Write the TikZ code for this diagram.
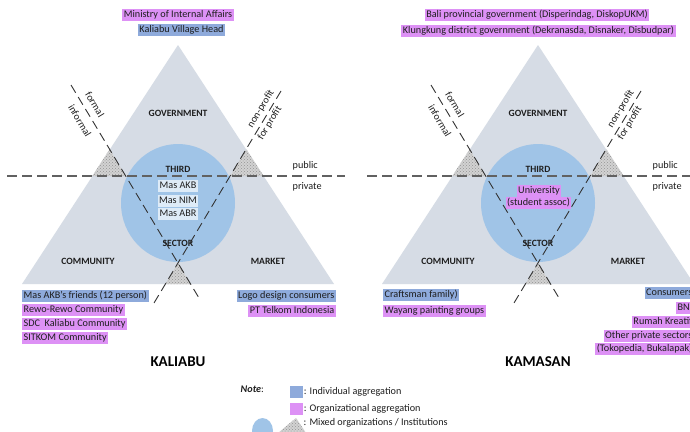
\documentclass[tikz,border=0pt]{standalone}
\usepackage{fontspec}
\setmainfont{Carlito}
\usetikzlibrary{patterns}
\definecolor{pinkhl}{RGB}{221,145,245}
\definecolor{bluehl}{RGB}{142,170,219}
\definecolor{trifill}{RGB}{214,220,229}
\definecolor{circfill}{RGB}{160,196,231}
\definecolor{masbox}{RGB}{222,235,247}
\definecolor{txt}{RGB}{30,30,30}
\tikzset{
 lbl/.style={font=\fontsize{10.2}{12}\selectfont, inner xsep=1.5pt, inner ysep=1pt, text height=7.6pt, text depth=2.4pt, text=txt},
 orgbox/.style={lbl, fill=pinkhl},
 indbox/.style={lbl, fill=bluehl},
 masnode/.style={lbl, fill=masbox},
 plainlbl/.style={lbl},
 sectorlbl/.style={font=\fontsize{9.6}{11}\selectfont\bfseries, text=txt, inner sep=0pt},
 paneltitle/.style={font=\fontsize{15}{17}\selectfont\bfseries, text=black},
 hline/.style={draw=black!62, line width=1.3pt, dash pattern=on 10pt off 5pt},
 dline/.style={draw=black!80, line width=0.9pt, dash pattern=on 9pt off 5pt},
 hatchfill/.style={fill=gray!35, postaction={pattern=crosshatch dots, pattern color=gray!85}},
}
\newcommand{\drawpanel}[1]{%
 \coordinate (#1A) at (178,45);
 \coordinate (#1L) at (22,284);
 \coordinate (#1R) at (334,284);
 \fill[trifill] (#1A) -- (#1L) -- (#1R) -- cycle;
 \fill[circfill] (178,203) ellipse [x radius=57, y radius=59];
 \path[hatchfill] (92.3,176) -- (125.8,176) -- (109.7,149.2) -- cycle;
 \path[hatchfill] (263.7,176) -- (230.2,176) -- (246.3,149.2) -- cycle;
 \path[hatchfill] (178,263) -- (165.4,284) -- (190.6,284) -- cycle;
 \coordinate (#1h1) at (7,176);
 \coordinate (#1h2) at (345,176);
 \coordinate (#1d1a) at (71,85);
 \coordinate (#1d1b) at (199,298);
 \coordinate (#1d2a) at (281,91);
 \coordinate (#1d2b) at (154,303);
 \draw[hline] (#1h1) -- (#1h2);
 \draw[dline] (#1d1a) -- (#1d1b);
 \draw[dline] (#1d2a) -- (#1d2b);
 \node[plainlbl, rotate=-59] (#1formal) at (94,105) {formal};
 \node[plainlbl, rotate=-59] (#1informal) at (79,121) {informal};
 \node[plainlbl, rotate=59] (#1nonprofit) at (261,109) {non-profit};
 \node[plainlbl, rotate=59] (#1forprofit) at (270,123) {for profit};
 \node[plainlbl, anchor=west] (#1public) at (291,166) {public};
 \node[plainlbl, anchor=west] (#1private) at (291,187) {private};
 \node[sectorlbl] (#1gov) at (178,113) {GOVERNMENT};
 \node[sectorlbl] (#1third) at (178,169) {THIRD};
 \node[sectorlbl] (#1sector) at (178,243) {SECTOR};
 \node[sectorlbl] (#1comm) at (88,261) {COMMUNITY};
 \node[sectorlbl] (#1market) at (268,261) {MARKET};
}
\begin{document}
\begin{tikzpicture}[x=1pt,y=-1pt]
\useasboundingbox (0,0) rectangle (690,431);
\fill[white] (0,0) rectangle (690,431);
% ---------- KALIABU ----------
\begin{scope}
\drawpanel{k}
\end{scope}
\node[orgbox] (minint) at (178,14.5) {Ministry of Internal Affairs};
\node[indbox] (kvh) at (181.5,29.5) {Kaliabu Village Head};
\node[masnode] (akb) at (178,185.5) {Mas AKB};
\node[masnode] (nim) at (178,201) {Mas NIM};
\node[masnode] (abr) at (178,214) {Mas ABR};
\node[indbox, anchor=west] (friends) at (22,296) {Mas AKB's friends (12 person)};
\node[orgbox, anchor=west] (rewo) at (22,310) {Rewo-Rewo Community};
\node[orgbox, anchor=west] (sdc) at (22,323.5) {SDC\ \ Kaliabu Community};
\node[orgbox, anchor=west] (sitkom) at (22,338) {SITKOM Community};
\node[indbox, anchor=east] (logo) at (336,296) {Logo design consumers};
\node[orgbox, anchor=east] (telkom) at (336,311) {PT Telkom Indonesia};
\node[paneltitle] (kaliabu) at (178,362) {KALIABU};
% ---------- KAMASAN ----------
\begin{scope}[shift={(360,0)}]
\drawpanel{m}
\end{scope}
\node[orgbox] (bali) at (537,15) {Bali provincial government (Disperindag, DiskopUKM)};
\node[orgbox] (klung) at (538.5,31) {Klungkung district government (Dekranasda, Disnaker, Disbudpar)};
\node[orgbox] (univ) at (539,190.5) {University};
\node[orgbox] (stud) at (538.5,203) {(student assoc)};
\node[indbox, anchor=west] (craft) at (383,295) {Craftsman family)};
\node[orgbox, anchor=west] (wayang) at (383,311) {Wayang painting groups};
\node[indbox, anchor=east] (cons) at (694,293) {Consumers};
\node[orgbox, anchor=east] (bni) at (694,307.5) {BNI};
\node[orgbox, anchor=east] (rumah) at (694,322) {Rumah Kreatif};
\node[orgbox, anchor=east] (other) at (694,336) {Other private sectors};
\node[orgbox, anchor=east] (toko) at (694,349) {(Tokopedia, Bukalapak)};
\node[paneltitle] (kamasan) at (538,362) {KAMASAN};
% ---------- Legend ----------
\node[plainlbl, anchor=west] (note) at (239,390) {\textbf{\textit{Note}}:};
\node[fill=bluehl, minimum width=13pt, minimum height=12pt, inner sep=0pt] (legind) at (296.5,392) {};
\node[plainlbl, anchor=west, inner xsep=0.5pt] (legindt) at (legind.east) {: Individual aggregation};
\node[fill=pinkhl, minimum width=13pt, minimum height=12pt, inner sep=0pt] (legorg) at (296.5,409) {};
\node[plainlbl, anchor=west, inner xsep=0.5pt] (legorgt) at (legorg.east) {: Organizational aggregation};
\fill[circfill] (262.5,431) ellipse [x radius=10.5, y radius=13];
\path[hatchfill] (278,433) -- (306,433) -- (296,418) -- cycle;
\node[plainlbl, anchor=west, inner xsep=0.5pt] (legmix) at (303,423) {: Mixed organizations / Institutions};
\end{tikzpicture}
\end{document}
